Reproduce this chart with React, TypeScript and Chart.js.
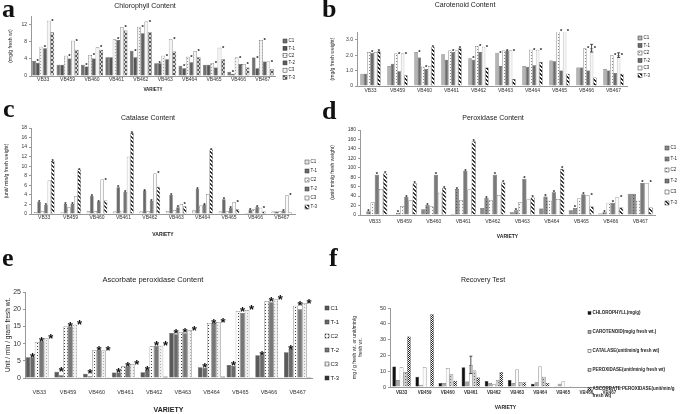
import React, { useEffect, useRef } from "react";
import { Chart, registerables } from "chart.js";

Chart.register(...registerables);

const SANS = "'Liberation Sans', Arial, sans-serif";
const SERIF = "'Liberation Serif', 'DejaVu Serif', serif";
Chart.defaults.font.family = SANS;
Chart.defaults.color = "#222";

// ---------------- data ----------------
const varieties = ["VB33", "VB459", "VB460", "VB461", "VB462", "VB463", "VB464", "VB465", "VB466", "VB467"];
const treatLabels = ["C1", "T-1", "C2", "T-2", "C3", "T-3"];

// a: Chlorophyll content (mg/g fresh wt)
const chlC1 = [3.5, 2.6, 2.6, 4.4, 5.9, 3.0, 2.4, 2.6, 1.0, 4.3];
const chlT1 = [3.1, 2.6, 2.2, 4.4, 4.4, 3.0, 1.8, 2.6, 0.5, 1.8];
const chlC2 = [6.8, 4.7, 4.9, 8.6, 11.5, 4.7, 4.5, 3.0, 4.3, 8.4];
const chlT2 = [6.5, 4.1, 4.1, 8.4, 10.0, 3.9, 3.2, 2.0, 2.8, 3.4];
const chlC3 = [12.9, 8.2, 6.7, 11.4, 12.7, 8.6, 5.8, 6.6, 2.8, 3.4];
const chlT3 = [10.2, 6.1, 6.1, 10.6, 10.2, 5.7, 4.4, 3.9, 2.0, 1.6];
const chlStars = [
  [1, 0, 1, 0, 1, 1, 1, 0, 1, 1],
  [1, 1, 1, 1, 1, 1, 1, 1, 1, 1],
  [1, 1, 1, 1, 1, 1, 1, 1, 1, 1],
];

// b: Carotenoid content (mg/g fresh weight)
const carC1 = [0.8, 1.3, 2.2, 2.05, 1.8, 2.15, 1.3, 1.65, 1.2, 1.1];
const carT1 = [0.8, 1.45, 1.85, 1.7, 1.7, 1.3, 1.25, 1.6, 1.2, 1.0];
const carC2 = [2.2, 2.1, 1.25, 2.3, 2.6, 2.3, 2.35, 3.55, 2.45, 2.0];
const carT2 = [2.15, 0.95, 1.1, 2.2, 2.2, 2.3, 1.35, 1.0, 1.0, 0.85];
const carC3 = [2.2, 2.1, 1.3, 2.3, 2.55, 2.3, 2.35, 3.55, 2.45, 2.0];
const carT3 = [2.25, 0.7, 2.55, 2.45, 1.2, 0.45, 1.55, 0.8, 0.55, 0.8];
const carC3Err = [0, 0, 0, 0, 0, 0, 0, 0, 0.25, 0.15];
const carStars = [
  [0, 0, 1, 0, 1, 1, 0, 0, 0, 0],
  [1, 1, 1, 1, 1, 1, 1, 1, 1, 1],
  [1, 1, 1, 1, 1, 1, 1, 1, 1, 1],
];

// c: Catalase content (unit/min/g fresh weight)
const catC1 = [0.4, 0.3, 0.6, 0.5, 0.5, 0.6, 0.8, 0.5, 0.2, 0.5];
const catT1 = [2.5, 2.1, 3.8, 5.6, 4.9, 4.0, 5.3, 3.1, 0.9, 0.5];
const catC2 = [0.6, 1.4, 0.6, 0.7, 0.6, 0.8, 1.8, 0.6, 1.0, 0.6];
const catT2 = [1.9, 2.1, 2.6, 4.6, 2.7, 1.4, 2.0, 1.3, 1.5, 0.7];
const catC3 = [7.0, 3.7, 7.2, 12.0, 8.5, 2.1, 4.2, 2.5, 1.3, 3.9];
const catT3 = [11.1, 9.3, 2.8, 17.0, 5.7, 1.6, 13.5, 1.0, 0.5, 0.3];
const catStars = [
  [1, 1, 1, 1, 1, 1, 1, 1, 1, 0],
  [1, 1, 1, 1, 1, 1, 1, 1, 1, 1],
  [1, 1, 1, 1, 1, 1, 1, 1, 1, 1],
];

// d: Peroxidase content (unit/min/g fresh weight)
const perC1 = [1, 1, 12, 2, 15, 6, 14, 10, 3, 45];
const perT1 = [8, 5, 21, 55, 36, 10, 39, 15, 6, 45];
const perC2 = [27, 19, 18, 31, 31, 27, 30, 35, 26, 30];
const perT2 = [85, 38, 85, 93, 85, 77, 48, 44, 26, 68];
const perC3 = [55, 31, 47, 54, 42, 33, 34, 42, 37, 68];
const perT3 = [88, 67, 57, 156, 69, 37, 98, 18, 16, 16];
const perStars = [
  [1, 1, 1, 1, 1, 1, 1, 1, 1, 0],
  [1, 1, 1, 1, 1, 1, 1, 1, 1, 1],
  [1, 1, 1, 1, 1, 1, 1, 1, 1, 1],
];

// e: Ascorbate peroxidase content (Unit/min/gram fresh wt.)
const apxC1 = [6.0, 1.8, 1.2, 1.6, 1.7, 13.1, 3.1, 3.8, 6.6, 7.5];
const apxT1 = [6.0, 0.8, 0.5, 1.6, 2.3, 12.7, 3.0, 3.5, 6.6, 8.4];
const apxC2 = [10.5, 15.0, 8.1, 3.4, 9.2, 13.3, 16.0, 19.5, 22.3, 21.0];
const apxT2 = [10.7, 15.0, 8.1, 3.4, 9.4, 13.0, 16.0, 18.9, 22.0, 20.0];
const apxC3 = [11.6, 15.5, 8.0, 4.0, 9.4, 13.9, 16.3, 19.8, 22.8, 21.8];
const apxT3 = [0, 0.1, 0.1, 0.1, 0.4, 0.1, 0.4, 0.1, 0.2, 0.3];
const apxStars = [
  [1, 1, 1, 1, 1, 1, 1, 1, 1, 1],
  [1, 1, 1, 1, 1, 1, 1, 1, 1, 1],
  [1, 1, 1, 1, 1, 1, 1, 1, 1, 1],
];

// f: Recovery test
const recoveryLabels = [
  "CHLOROPHYLL(mg/g)",
  "CAROTENOID(mg/g fresh wt.)",
  "CATALASE(unit/min/g fresh wt)",
  "PEROXIDASE(unit/min/g fresh wt)",
  "ASCORBATE PEROXIDASE(unit/min/g\nfresh wt)",
];
const recChl = [13, 6.5, 2.5, 12.5, 3.8, 4.5, 2, 0.5, 0, 0];
const recCar = [4.5, 1.5, 2.5, 3.5, 2.5, 2.5, 3, 2, 0.3, 0.2];
const recCat = [12.5, 12.5, 12, 14, 1.8, 11, 13, 3.5, 0.5, 0.6];
const recPer = [9.5, 0.5, 8, 10.5, 4.5, 3, 6.5, 0.3, 0.1, 0.3];
const recApx = [32, 46, 4, 6, 9.5, 3, 2.5, 0.2, 0.1, 0.1];
const recCatErr = [0, 0, 0, 5.5, 0, 0, 0, 0, 0, 0];

// ---------------- fills ----------------
function makeFill(st: any): any {
  if (st.kind === "solid") return st.fg;
  const c = document.createElement("canvas");
  const n = st.kind === "checker" ? 2 : st.kind === "dots" ? 3 : 4;
  c.width = n;
  c.height = n;
  const g = c.getContext("2d") as CanvasRenderingContext2D;
  g.fillStyle = st.bg;
  g.fillRect(0, 0, n, n);
  g.fillStyle = st.fg;
  if (st.kind === "dots") g.fillRect(1, 1, 1, 1);
  else if (st.kind === "hatch") {
    for (let i = 0; i < n; i++) {
      g.fillRect(i, i, 1, 1);
      g.fillRect((i + 1) % n, i, 1, 1);
    }
  } else if (st.kind === "cross") {
    for (let i = 0; i < n; i++) {
      g.fillRect(i, i, 1, 1);
      g.fillRect(n - 1 - i, i, 1, 1);
    }
  } else if (st.kind === "checker") {
    g.fillRect(0, 0, 1, 1);
    g.fillRect(1, 1, 1, 1);
  }
  return g.createPattern(c, "repeat");
}

const stylesA = [
  { kind: "solid", fg: "#707070" },
  { kind: "solid", fg: "#545454" },
  { kind: "dots", fg: "#9a9a9a", bg: "#f2f2f2" },
  { kind: "solid", fg: "#5e5e5e" },
  { kind: "solid", fg: "#f4f4f4" },
  { kind: "cross", fg: "#555", bg: "#d8d8d8" },
];
const stylesB = [
  { kind: "solid", fg: "#b4b4b4" },
  { kind: "solid", fg: "#6c6c6c" },
  { kind: "dots", fg: "#888", bg: "#fafafa" },
  { kind: "solid", fg: "#6c6c6c" },
  { kind: "solid", fg: "#f6f6f6" },
  { kind: "hatch", fg: "#222", bg: "#fff" },
];
const stylesC = [
  { kind: "solid", fg: "#e6e6e6" },
  { kind: "solid", fg: "#6a6a6a" },
  { kind: "dots", fg: "#888", bg: "#fafafa" },
  { kind: "solid", fg: "#747474" },
  { kind: "solid", fg: "#fafafa" },
  { kind: "hatch", fg: "#333", bg: "#fff" },
];
const stylesD = [
  { kind: "solid", fg: "#8a8a8a" },
  { kind: "dots", fg: "#555", bg: "#8c8c8c" },
  { kind: "dots", fg: "#888", bg: "#fafafa" },
  { kind: "solid", fg: "#7a7a7a" },
  { kind: "solid", fg: "#fafafa" },
  { kind: "hatch", fg: "#333", bg: "#fff" },
];
const stylesE = [
  { kind: "solid", fg: "#5a5a5a" },
  { kind: "solid", fg: "#6a6a6a" },
  { kind: "dots", fg: "#444", bg: "#fafafa" },
  { kind: "solid", fg: "#777" },
  { kind: "dots", fg: "#aaa", bg: "#f0f0f0" },
  { kind: "solid", fg: "#333" },
];
const stylesF = [
  { kind: "solid", fg: "#111" },
  { kind: "solid", fg: "#a8a8a8" },
  { kind: "solid", fg: "#fafafa" },
  { kind: "dots", fg: "#666", bg: "#cfcfcf" },
  { kind: "checker", fg: "#222", bg: "#fff" },
];

// ---------------- plugins ----------------
const boxLegend = {
  id: "boxLegend",
  afterDraw(chart: any, _a: any, o: any) {
    if (!o || o.x == null) return;
    const ctx = chart.ctx;
    ctx.save();
    chart.data.datasets.forEach((ds: any, i: number) => {
      const yy = o.y + i * o.dy;
      ctx.fillStyle = ds.backgroundColor;
      ctx.fillRect(o.x, yy - o.box / 2, o.box, o.box);
      ctx.lineWidth = 0.5;
      ctx.strokeStyle = "#333";
      ctx.strokeRect(o.x, yy - o.box / 2, o.box, o.box);
      ctx.fillStyle = "#222";
      ctx.font = `${o.weight || "normal"} ${o.size}px ${SANS}`;
      ctx.textBaseline = "middle";
      ctx.textAlign = "left";
      String(ds.label)
        .split("\n")
        .forEach((t: string, k: number) => ctx.fillText(t, o.x + o.box + 1.5, yy + k * (o.lh || o.size * 1.3)));
    });
    ctx.restore();
  },
};

const starMarks = {
  id: "starMarks",
  afterDatasetsDraw(chart: any, _a: any, o: any) {
    const ctx = chart.ctx;
    const size = (o && o.size) || 6;
    const off = (o && o.off) || 1;
    ctx.save();
    ctx.font = `bold ${size}px ${SANS}`;
    ctx.fillStyle = "#111";
    ctx.textAlign = "center";
    ctx.textBaseline = "alphabetic";
    chart.data.datasets.forEach((ds: any, i: number) => {
      if (!ds.stars || i < 1) return;
      const m = chart.getDatasetMeta(i);
      const p = chart.getDatasetMeta(i - 1);
      ds.stars.forEach((f: number, j: number) => {
        if (!f) return;
        const b = m.data[j];
        const q = p.data[j];
        const top = Math.min(b.y, q.y);
        ctx.fillText("*", b.x, top - off + 0.43 * size);
      });
    });
    ctx.restore();
  },
};

const errBars = {
  id: "errBars",
  afterDatasetsDraw(chart: any) {
    const ctx = chart.ctx;
    const ys = chart.scales.y;
    ctx.save();
    ctx.strokeStyle = "#222";
    ctx.lineWidth = 0.8;
    chart.data.datasets.forEach((ds: any, i: number) => {
      if (!ds.err) return;
      const m = chart.getDatasetMeta(i);
      ds.err.forEach((e: number, j: number) => {
        if (!e) return;
        const v = ds.data[j];
        const x = m.data[j].x;
        const y1 = ys.getPixelForValue(v + e);
        const y2 = ys.getPixelForValue(Math.max(0, v - e));
        ctx.beginPath();
        ctx.moveTo(x, y1);
        ctx.lineTo(x, y2);
        ctx.moveTo(x - 1.5, y1);
        ctx.lineTo(x + 1.5, y1);
        ctx.moveTo(x - 1.5, y2);
        ctx.lineTo(x + 1.5, y2);
        ctx.stroke();
      });
    });
    ctx.restore();
  },
};

// ---------------- panels ----------------
const panelSpecs: any[] = [
  {
    key: "a", left: 0, top: 0, w: 330, h: 95,
    pad: { left: 0, top: 16, right: 55, bottom: 3 }, yWidth: 31, xHeight: 16,
    yMax: 14, yStep: 2, yTick: 5, yTickPad: 2, yTitle: "(mg/g fresh wt)", yTitleSize: 5, yTitlePad: 7.5,
    xTick: 5, xTickPad: 1, xTitle: "VARIETY", xTitleSize: 4.5, xBold: false, cp: 0.9,
    legend: { x: 283, y: 41, dy: 7.3, box: 4, size: 4.5 },
    stars: { size: 6, off: 0.5 },
    series: [chlC1, chlT1, chlC2, chlT2, chlC3, chlT3], labels: treatLabels, styles: stylesA, starFlags: chlStars,
  },
  {
    key: "b", left: 326, top: 0, w: 359, h: 100,
    pad: { left: 0, top: 32, right: 58, bottom: 2 }, yWidth: 31, xHeight: 12,
    yMax: 3.5, yStep: 0.5, yTick: 5, yTickPad: 2, yTitle: "(mg/g fresh weight)", yTitleSize: 5, yTitlePad: 4,
    xTick: 5, xTickPad: 2, xTitle: "", xTitleSize: 5, xBold: false, cp: 0.75,
    legend: { x: 312, y: 38, dy: 7.5, box: 4, size: 4.5 },
    stars: { size: 6, off: 0.5 },
    series: [carC1, carT1, carC2, carT2, carC3, carT3], labels: treatLabels, styles: stylesB, starFlags: carStars,
    errs: { 4: carC3Err },
  },
  {
    key: "c", left: 0, top: 110, w: 330, h: 135,
    pad: { left: 0, top: 18, right: 35, bottom: 7 }, yWidth: 31, xHeight: 24,
    yMax: 18, yStep: 2, yTick: 5, yTickPad: 2, yTitle: "(unit/ min/g fresh weight)", yTitleSize: 5, yTitlePad: 4,
    xTick: 5, xTickPad: 1, xTitle: "VARIETY", xTitleSize: 5, xBold: false, cp: 0.78,
    legend: { x: 305, y: 52, dy: 9, box: 4, size: 4.5 },
    stars: { size: 6, off: 0.5 },
    series: [catC1, catT1, catC2, catT2, catC3, catT3], labels: treatLabels, styles: stylesC, starFlags: catStars,
  },
  {
    key: "d", left: 326, top: 110, w: 359, h: 135,
    pad: { left: 0, top: 20, right: 30, bottom: 5 }, yWidth: 34, xHeight: 25,
    yMax: 180, yStep: 20, yTick: 5, yTickPad: 2, yTitle: "(unit/ min/g fresh weight)", yTitleSize: 5, yTitlePad: 4,
    xTick: 5, xTickPad: 4, xTitle: "VARIETY", xTitleSize: 5, xBold: false, cp: 0.85,
    legend: { x: 339, y: 38, dy: 11, box: 4, size: 4.5 },
    stars: { size: 6, off: 1 },
    series: [perC1, perT1, perC2, perT2, perC3, perT3], labels: treatLabels, styles: stylesD, starFlags: perStars,
  },
  {
    key: "e", left: 0, top: 255, w: 342, h: 159,
    pad: { left: 0, top: 37, right: 30, bottom: 0 }, yWidth: 25, xHeight: 36,
    yMax: 25, yStep: 5, yTick: 7, yTickPad: 2, yTitle: "Unit / min / gram fresh wt.", yTitleSize: 6.5, yTitlePad: 4,
    xTick: 5.5, xTickPad: 11, xTitle: "VARIETY", xTitleSize: 7, xBold: false, cp: 0.95,
    legend: { x: 325, y: 53, dy: 14, box: 4, size: 6 },
    stars: { size: 13, off: 0 },
    series: [apxC1, apxT1, apxC2, apxT2, apxC3, apxT3], labels: treatLabels, styles: stylesE, starFlags: apxStars,
  },
  {
    key: "f", left: 326, top: 255, w: 359, h: 159,
    pad: { left: 0, top: 53, right: 64, bottom: 3 }, yWidth: 64, xHeight: 24,
    yMax: 50, yStep: 5, yTick: 5.5, yTickPad: 2, yTitle: ["mg / g fresh wt. or unit/min/g", "fresh wt."], yTitleSize: 5, yTitlePad: 26,
    xTick: 4.5, xTickPad: 3, xTitle: "VARIETY", xTitleSize: 5, xBold: true, cp: 0.8,
    legend: { x: 262, y: 58, dy: 19, box: 3, size: 4.5, weight: "bold", lh: 7 },
    stars: { size: 6, off: 1 },
    series: [recChl, recCar, recCat, recPer, recApx], labels: recoveryLabels, styles: stylesF, starFlags: null,
    errs: { 2: recCatErr },
  },
];

function buildConfig(p: any): any {
  const datasets = p.series.map((vals: number[], i: number) => {
    const ds: any = {
      label: p.labels[i],
      data: vals,
      backgroundColor: makeFill(p.styles[i]),
      borderColor: "#333",
      borderWidth: 0.5,
      categoryPercentage: p.cp,
      barPercentage: 1,
    };
    if (p.starFlags && i % 2 === 1) ds.stars = p.starFlags[(i - 1) / 2];
    if (p.errs && p.errs[i]) ds.err = p.errs[i];
    return ds;
  });
  return {
    type: "bar",
    data: { labels: varieties, datasets },
    options: {
      responsive: false,
      animation: false,
      devicePixelRatio: 1,
      layout: { padding: p.pad },
      plugins: {
        legend: { display: false },
        title: { display: false },
        tooltip: { enabled: false },
        boxLegend: p.legend,
        starMarks: p.stars,
      },
      scales: {
        x: {
          ticks: {
            font: { size: p.xTick, weight: p.xBold ? "bold" : "normal" },
            color: "#333",
            padding: p.xTickPad,
            maxRotation: 0,
            autoSkip: false,
          },
          grid: { display: false, drawTicks: false },
          border: { display: true, color: "#999", width: 1 },
          title: {
            display: !!p.xTitle,
            text: p.xTitle,
            font: { size: p.xTitleSize, weight: "bold" },
            color: "#222",
            padding: { top: 0, bottom: 0 },
          },
          afterFit: (s: any) => {
            s.height = p.xHeight;
          },
        },
        y: {
          min: 0,
          max: p.yMax,
          ticks: { stepSize: p.yStep, font: { size: p.yTick }, color: "#333", padding: p.yTickPad },
          grid: { display: true, drawOnChartArea: false, drawTicks: true, tickLength: 2, color: "#999" },
          border: { display: true, color: "#999", width: 1 },
          title: {
            display: true,
            text: p.yTitle,
            font: { size: p.yTitleSize },
            color: "#222",
            padding: { top: p.yTitlePad, bottom: 0 },
          },
          afterFit: (s: any) => {
            s.width = p.yWidth;
          },
        },
      },
    },
    plugins: [boxLegend, starMarks, errBars],
  };
}

function ChartPanel({ spec }: { spec: any }) {
  const ref = useRef<HTMLCanvasElement | null>(null);
  useEffect(() => {
    if (!ref.current) return;
    const chart = new Chart(ref.current, buildConfig(spec));
    return () => chart.destroy();
  }, [spec]);
  return (
    <canvas
      ref={ref}
      width={spec.w}
      height={spec.h}
      style={{ position: "absolute", left: spec.left, top: spec.top, width: spec.w, height: spec.h }}
    />
  );
}

const panelTitles = [
  { text: "Chlorophyll Content", x: 145, y: 5, size: 7 },
  { text: "Carotenoid Content", x: 465, y: 4, size: 7 },
  { text: "Catalase Content", x: 148, y: 117, size: 7 },
  { text: "Peroxidase Content", x: 493, y: 117, size: 7 },
  { text: "Ascorbate peroxidase Content", x: 153, y: 280, size: 7.5 },
  { text: "Recovery Test", x: 483, y: 279, size: 7 },
];

const panelLetters = [
  { t: "a", x: 2, y: -4 },
  { t: "b", x: 322, y: -4 },
  { t: "c", x: 3, y: 96 },
  { t: "d", x: 322, y: 98 },
  { t: "e", x: 2, y: 245 },
  { t: "f", x: 329, y: 245 },
];

export default function App() {
  return (
    <div
      style={{
        position: "fixed",
        left: 0,
        top: 0,
        width: 685,
        height: 414,
        background: "#fff",
        overflow: "hidden",
      }}
    >
      {panelSpecs.map((s) => (
        <ChartPanel key={s.key} spec={s} />
      ))}
      {panelTitles.map((t) => (
        <div
          key={t.text}
          style={{
            position: "absolute",
            left: t.x,
            top: t.y - t.size / 2,
            transform: "translateX(-50%)",
            whiteSpace: "nowrap",
            font: `${t.size}px ${SANS}`,
            lineHeight: `${t.size}px`,
            color: "#222",
          }}
        >
          {t.text}
        </div>
      ))}
      {panelLetters.map((l) => (
        <div
          key={l.t}
          style={{
            position: "absolute",
            left: l.x,
            top: l.y,
            font: `bold 26px ${SERIF}`,
            lineHeight: "26px",
            color: "#111",
          }}
        >
          {l.t}
        </div>
      ))}
    </div>
  );
}
